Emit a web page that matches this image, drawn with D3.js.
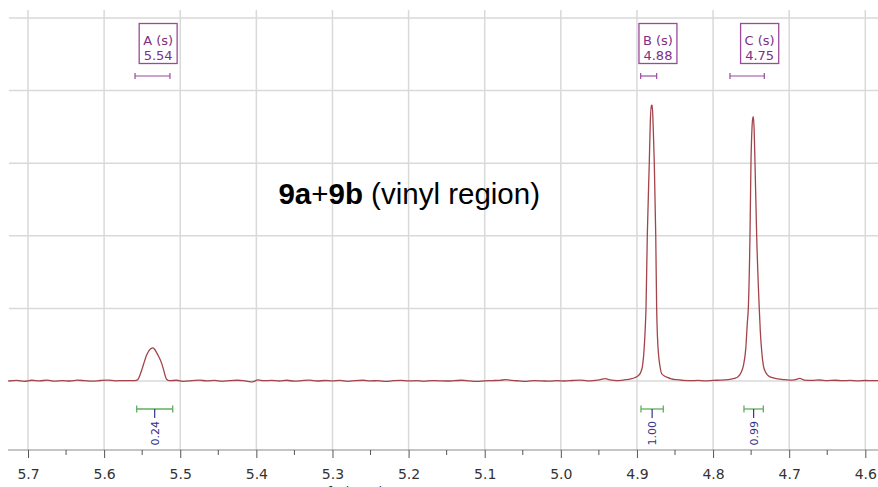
<!DOCTYPE html>
<html><head><meta charset="utf-8">
<script src="https://cdn.jsdelivr.net/npm/d3@7"></script>
<style>
html,body{margin:0;padding:0;background:#fff;}
svg{display:block;}
</style></head>
<body>
<svg id="chart" width="878" height="487"></svg>
<script>
// ---------- data ----------
const majorTicks = [5.7,5.6,5.5,5.4,5.3,5.2,5.1,5.0,4.9,4.8,4.7,4.6];
const tickLabels = ["5.7","5.6","5.5","5.4","5.3","5.2","5.1","5.0","4.9","4.8","4.7","4.6"];
const minorTicks = [5.65,5.55,5.45,5.35,5.25,5.15,5.05,4.95,4.85,4.75,4.65];
const gridLevels = [0,1,2,3,4,5];

const shift = [
5.726,5.715,5.705,5.695,5.685,5.675,5.665,5.655,5.645,5.635,5.625,5.615,5.605,5.595,5.585,5.575,5.566,
5.560,5.556,5.553,5.550,5.547,5.544,5.541,5.538,5.536,5.534,5.531,5.528,5.525,5.522,5.520,5.518,5.514,
5.505,5.495,5.485,5.475,5.465,5.455,5.445,5.435,5.425,5.415,5.405,5.398,5.390,5.380,5.370,5.360,5.350,
5.340,5.330,5.320,5.310,5.300,5.290,5.280,5.270,5.260,5.250,5.240,5.230,5.220,5.210,5.200,5.190,5.180,
5.170,5.160,5.150,5.140,5.130,5.120,5.110,5.100,5.090,5.080,5.072,5.064,5.055,5.045,5.035,5.025,5.015,
5.005,4.995,4.985,4.975,4.965,4.955,4.948,4.942,4.937,4.930,4.925,4.920,
4.914,4.908,4.903,4.898,4.895,4.8925,4.8905,4.889,4.8881,4.8864,4.8838,4.8825,4.8812,4.8806,4.8799,
4.8785,4.8772,4.8753,4.8741,4.873,4.8715,4.870,4.8675,4.864,4.860,4.855,4.848,
4.840,4.830,4.820,4.810,4.800,
4.790,4.780,4.772,4.767,4.763,4.760,4.757,4.755,4.7537,4.7515,4.7502,4.749,4.7478,4.7470,4.746,
4.7449,4.7427,4.7393,4.738,4.736,4.734,4.731,4.727,4.722,4.715,4.708,
4.700,4.693,4.686,4.680,4.670,4.660,4.650,4.640,4.630,4.620,4.610,4.600,4.590,4.583
];
const intensity = [
0.000,0.008,-0.004,0.010,0.002,0.012,-0.003,0.006,0.000,0.011,0.004,-0.002,0.007,0.012,0.003,0.006,0.004,
0.005,0.015,0.08,0.17,0.27,0.36,0.42,0.45,0.455,0.44,0.39,0.33,0.26,0.16,0.08,0.025,0.004,
0.010,-0.006,0.006,0.012,0.002,0.008,-0.005,0.005,0.010,0.001,-0.012,0.015,0.004,0.008,0.000,0.010,-0.003,
0.006,0.012,0.000,0.007,0.002,0.009,-0.004,0.006,0.010,0.002,0.005,-0.006,0.004,0.008,0.001,0.005,-0.004,
0.006,0.003,0.000,0.004,0.010,0.002,-0.005,0.003,0.006,0.010,0.018,0.008,0.002,-0.004,0.005,0.002,-0.003,
0.004,0.000,0.007,0.012,0.003,0.010,0.020,0.032,0.020,0.008,0.005,0.010,
0.018,0.030,0.045,0.075,0.12,0.22,0.45,0.75,1.00,2.00,3.00,3.55,3.80,3.76,3.80,
3.45,3.00,2.00,1.00,0.60,0.35,0.22,0.10,0.07,0.05,0.030,0.018,
0.010,0.004,0.008,0.002,0.009,
0.012,0.020,0.035,0.06,0.12,0.22,0.45,0.80,1.00,2.00,3.00,3.45,3.62,3.64,3.45,
3.00,2.00,1.00,0.70,0.40,0.22,0.12,0.07,0.045,0.030,0.020,
0.012,0.015,0.035,0.012,0.008,0.014,0.006,0.010,0.004,0.009,0.002,0.007,0.004,0.006
];

// multiplet annotations
const multName   = ["A (s)","B (s)","C (s)"];
const multShift  = ["5.54","4.88","4.75"];
const multStart  = [5.5594,4.8951,4.7778];
const multEnd    = [5.5135,4.8741,4.7327];
const multBoxCtr = [5.529,4.8724,4.7388];

// integrals
const intStart = [5.5572,4.8947,4.7594];
const intEnd   = [5.5099,4.8654,4.7340];
const intValue = ["0.24","1.00","0.99"];

// ---------- drawing ----------
const W = 878, H = 487;
const svg = d3.select("#chart");
const x = d3.scaleLinear().domain([5.7,4.6]).range([28,865.3]);
const y = d3.scaleLinear().domain([0,5]).range([381,18]);
const axisY = 450, gridTop = 10, leftEdge = 8;

// grid
const grid = svg.append("g");
grid.selectAll("line.v").data(majorTicks).join("line")
  .attr("x1",d=>x(d)).attr("x2",d=>x(d))
  .attr("y1",gridTop).attr("y2",axisY)
  .attr("stroke","#d9d9d9").attr("stroke-width",1.5);
grid.selectAll("line.h").data(gridLevels).join("line")
  .attr("x1",leftEdge+1).attr("x2",W)
  .attr("y1",d=>y(d)).attr("y2",d=>y(d))
  .attr("stroke","#d9d9d9").attr("stroke-width",1.5);

// axis
const axisG = svg.append("g").attr("transform",`translate(0,${axisY})`);
axisG.append("line").attr("x1",leftEdge).attr("x2",W).attr("y1",0).attr("y2",0)
  .attr("stroke","#8c8c8c").attr("stroke-width",1.2);
const xAxis = d3.axisBottom(x).tickValues(majorTicks)
  .tickFormat((d,i)=>tickLabels[i]).tickSize(8).tickSizeOuter(0);
axisG.call(xAxis);
axisG.select(".domain").remove();
axisG.selectAll(".tick line").attr("stroke","#555").attr("stroke-width",1);
axisG.selectAll(".tick text").attr("font-family","'DejaVu Sans', sans-serif")
  .attr("font-size",14).attr("fill","#333").attr("y",0).attr("dy",0)
  .attr("transform","translate(0,29)");
axisG.selectAll("line.minor").data(minorTicks).join("line")
  .attr("class","minor").attr("x1",d=>x(d)).attr("x2",d=>x(d))
  .attr("y1",0).attr("y2",5).attr("stroke","#555").attr("stroke-width",1);

// clipped axis title peeking in at bottom (as in the reference)
svg.append("text").attr("x",x(5.27)).attr("y",496).attr("text-anchor","middle")
  .attr("font-family","'DejaVu Sans', sans-serif").attr("font-size",13)
  .attr("fill","#222").text("f1 (ppm)");

// spectrum
const pts = shift.map((s,i)=>[s,intensity[i]]);
svg.append("path").datum(pts)
  .attr("d",d3.line().x(d=>x(d[0])).y(d=>y(d[1])).curve(d3.curveMonotoneX))
  .attr("fill","none").attr("stroke","#a3444a").attr("stroke-width",1.3)
  .attr("stroke-linejoin","round");

// multiplet labels
const purple = "#9b4a9b", purpleText = "#7d2f86";
multName.forEach((nm,i)=>{
  const g = svg.append("g");
  const cx = x(multBoxCtr[i]);
  const t1 = g.append("text").attr("x",cx).attr("y",45).attr("text-anchor","middle")
    .attr("font-family","'DejaVu Sans', sans-serif").attr("font-size",13)
    .attr("fill",purpleText).text(nm);
  const t2 = g.append("text").attr("x",cx).attr("y",60).attr("text-anchor","middle")
    .attr("font-family","'DejaVu Sans', sans-serif").attr("font-size",13)
    .attr("fill",purpleText).text(multShift[i]);
  const w = Math.max(t1.node().getComputedTextLength(), t2.node().getComputedTextLength()) + 8;
  g.insert("rect","text").attr("x",cx-w/2).attr("y",23.5).attr("width",w).attr("height",40)
    .attr("fill","#fff").attr("stroke",purple).attr("stroke-width",1.3);
  const x1 = x(multStart[i]), x2 = x(multEnd[i]), yb = 76;
  g.append("line").attr("x1",x1).attr("x2",x2).attr("y1",yb).attr("y2",yb)
    .attr("stroke",purple).attr("stroke-width",1.2);
  [x1,x2].forEach(xx=>g.append("line").attr("x1",xx).attr("x2",xx)
    .attr("y1",yb-3).attr("y2",yb+3).attr("stroke",purple).attr("stroke-width",1.2));
});

// integrals
const green = "#5fae5f", navy = "#33338a";
intValue.forEach((v,i)=>{
  const g = svg.append("g");
  const x1 = x(intStart[i]), x2 = x(intEnd[i]), yb = 409, cx = (x1+x2)/2;
  g.append("line").attr("x1",x1).attr("x2",x2).attr("y1",yb).attr("y2",yb)
    .attr("stroke",green).attr("stroke-width",1.3);
  [x1,x2].forEach(xx=>g.append("line").attr("x1",xx).attr("x2",xx)
    .attr("y1",yb-3.5).attr("y2",yb+3.5).attr("stroke",green).attr("stroke-width",1.3));
  g.append("line").attr("x1",cx).attr("x2",cx).attr("y1",yb).attr("y2",yb+9)
    .attr("stroke",navy).attr("stroke-width",1.2);
  g.append("text").attr("transform",`translate(${cx+4},${yb+12}) rotate(-90)`)
    .attr("text-anchor","end")
    .attr("font-family","'DejaVu Sans', sans-serif").attr("font-size",11)
    .attr("fill",navy).text(v);
});

// title annotation
const title = svg.append("text").attr("x",x(5.371)).attr("y",204)
  .attr("font-family","'Liberation Sans', Arial, sans-serif").attr("font-size",29.5)
  .attr("fill","#000");
title.append("tspan").attr("font-weight","bold").text("9a");
title.append("tspan").text("+");
title.append("tspan").attr("font-weight","bold").text("9b");
title.append("tspan").text(" (vinyl region)");
</script>
</body></html>
